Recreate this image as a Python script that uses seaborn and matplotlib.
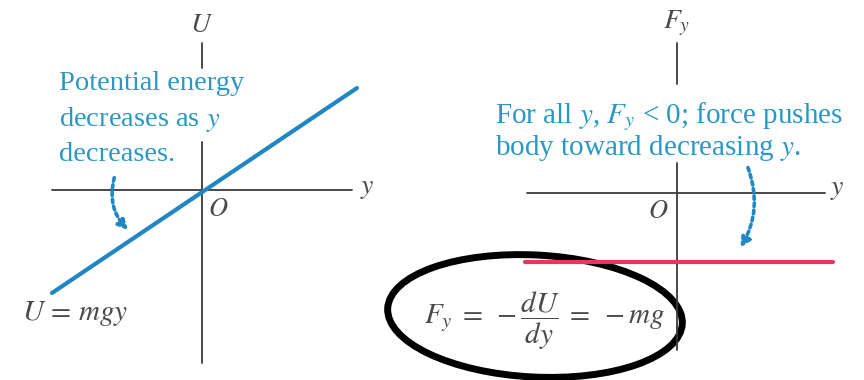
# U(y) and F_y(y) for gravitational potential energy
import numpy as np
import pandas as pd
import matplotlib.pyplot as plt
from matplotlib.patches import Ellipse
import seaborn as sns

# data (1 unit = 100 px)
u_line_y = [-1.50, 1.55]
u_line_U = [-1.03, 1.02]
f_line_y = [-1.52, 1.56]
f_line_F = [-0.69, -0.69]

text_left = ["Potential energy", "decreases as $y$", "decreases."]
text_right = ["For all $y$, $F_y$ < 0; force pushes", "body toward decreasing $y$."]

sns.set_theme(style="white")
plt.rcParams['font.family'] = ['Liberation Serif', 'DejaVu Serif']
plt.rcParams['mathtext.fontset'] = 'stix'

teal = "#2a98c2"
blue = "#1f88c4"
red = "#e23a5e"
axc = "#3a3a3a"
grey = "#4a4a4a"

fig = plt.figure(figsize=(8.64, 3.8), dpi=100)
ax1 = fig.add_axes([0, 0, 0.5, 1])
ax2 = fig.add_axes([0.5, 0, 0.5, 1])
ax1.set_xlim(-2.02, 2.30)
ax1.set_ylim(-1.90, 1.90)
ax2.set_xlim(-2.45, 1.87)
ax2.set_ylim(-1.87, 1.93)
for ax in (ax1, ax2):
    ax.set_axis_off()

# ---- left panel ----
ax1.plot([-1.50, 1.50], [0, 0], color=axc, lw=1.3)
ax1.plot([0, 0], [1.47, 1.22], color=axc, lw=1.3)
ax1.plot([0, 0], [0.48, -1.73], color=axc, lw=1.3)
sns.lineplot(x=u_line_y, y=u_line_U, ax=ax1, color=blue, lw=3)
ax1.text(0, 1.65, "$U$", ha='center', va='center', fontsize=20, color=grey)
ax1.text(1.65, 0.02, "$y$", ha='center', va='center', fontsize=20, color=grey)
ax1.text(0.16, -0.20, "$O$", ha='center', va='center', fontsize=19, color=grey)
for i, s in enumerate(text_left):
    ax1.text(-1.43, 1.06 - 0.35 * i, s, ha='left', va='center',
             fontsize=20.5, color=teal)
ax1.annotate("", xy=(-0.72, -0.42), xytext=(-0.87, 0.15),
             arrowprops=dict(arrowstyle='-|>', color=blue, lw=2.6,
                             linestyle=(0, (1, 1)), mutation_scale=14,
                             connectionstyle='arc3,rad=0.3'))
ax1.text(-1.27, -1.23, "$U\\,=\\,mgy$", ha='center', va='center',
         fontsize=21, color=grey)

# ---- right panel ----
ax2.plot([-1.50, 1.48], [0, 0], color=axc, lw=1.3)
ax2.plot([0, 0], [1.50, 1.09], color=axc, lw=1.3)
ax2.plot([0, 0], [0.30, -1.57], color=axc, lw=1.3)
sns.lineplot(x=f_line_y, y=f_line_F, ax=ax2, color=red, lw=3)
ax2.text(0, 1.70, "$F_y$", ha='center', va='center', fontsize=20, color=grey)
ax2.text(1.60, 0.03, "$y$", ha='center', va='center', fontsize=20, color=grey)
ax2.text(-0.19, -0.19, "$O$", ha='center', va='center', fontsize=19, color=grey)
for i, s in enumerate(text_right):
    ax2.text(-1.82, 0.76 - 0.31 * i, s, ha='left', va='center',
             fontsize=21, color=teal)
ax2.annotate("", xy=(0.62, -0.57), xytext=(0.70, 0.28),
             arrowprops=dict(arrowstyle='-|>', color=blue, lw=2.6,
                             linestyle=(0, (1, 1)), mutation_scale=14,
                             connectionstyle='arc3,rad=-0.25'))
ax2.text(-1.33, -1.28, "$F_y\\;=\\;-\\dfrac{dU}{dy}\\;=\\;-mg$", ha='center',
         va='center', fontsize=21, color=grey)
ax2.add_patch(Ellipse((-1.42, -1.23), 2.95, 1.22, angle=-3, fill=False,
                      ec='black', lw=5, clip_on=False))

plt.savefig("out.png", dpi=100)
